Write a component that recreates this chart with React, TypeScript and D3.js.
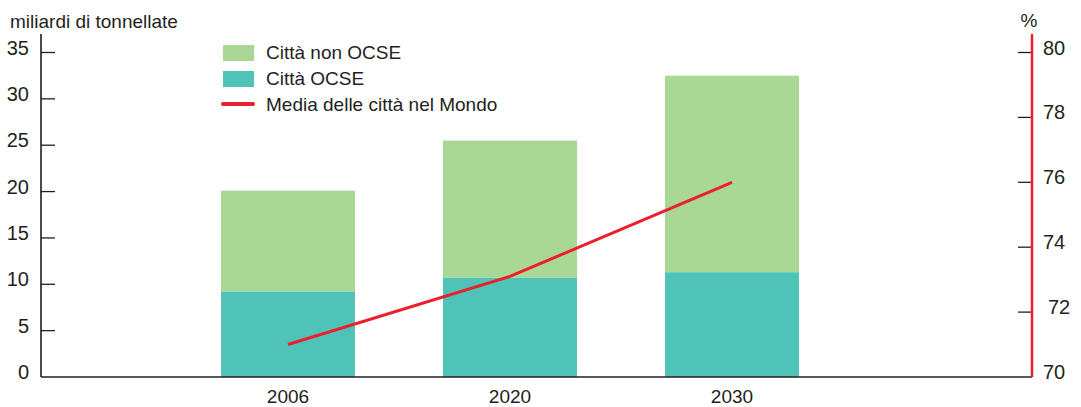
import React from 'react'
import * as d3 from 'd3'

const years = ['2006', '2020', '2030']
const cittaOcse = [9.2, 10.7, 11.3]
const cittaNonOcse = [10.9, 14.8, 21.2]
const mediaMondo = [71.0, 73.1, 76.0]
const leftTicks = [0, 5, 10, 15, 20, 25, 30, 35]
const rightTicks = [70, 72, 74, 76, 78, 80]

const legendItems = [
  { label: 'Città non OCSE', kind: 'rect', color: '#a9d795' },
  { label: 'Città OCSE', kind: 'rect', color: '#4fc3b7' },
  { label: 'Media delle città nel Mondo', kind: 'line', color: '#ec1f2d' },
]

const W = 1081
const H = 407
const left = 41
const right = 1032
const top = 34
const bottom = 377
const barW = 134
const font = '"Liberation Sans", Arial, sans-serif'

export default function App() {
  const x = d3.scalePoint<string>().domain(years).range([288, 732])
  const y = d3.scaleLinear().domain([0, 35]).range([bottom, 52.5])
  const y2 = d3.scaleLinear().domain([70, 80]).range([bottom, 52.5])

  const stacked = years.map((yr, i) => ({
    yr,
    ocse: cittaOcse[i],
    total: cittaOcse[i] + cittaNonOcse[i],
  }))

  const line = d3
    .line<number>()
    .x((d, i) => x(years[i]) as number)
    .y((d) => y2(d))

  return (
    <svg width={W} height={H} style={{ position: 'absolute', left: 0, top: 0, background: '#fff' }} fontFamily={font}>
      <text x={10} y={28} fontSize={19} fill="#231f20">miliardi di tonnellate</text>
      <text x={1029} y={27} fontSize={19} fill="#231f20" textAnchor="middle">%</text>

      {/* bars */}
      {stacked.map((d) => (
        <g key={d.yr}>
          <rect x={(x(d.yr) as number) - barW / 2} y={y(d.total)} width={barW} height={y(d.ocse) - y(d.total)} fill="#a9d795" />
          <rect x={(x(d.yr) as number) - barW / 2} y={y(d.ocse)} width={barW} height={bottom - y(d.ocse)} fill="#4fc3b7" />
        </g>
      ))}

      {/* line */}
      <path d={line(mediaMondo) || ''} fill="none" stroke="#ec1f2d" strokeWidth={3} />

      {/* left axis */}
      <line x1={left} x2={left} y1={top} y2={bottom} stroke="#4a4a4a" strokeWidth={2} />
      {leftTicks.map((t) => (
        <g key={t}>
          {t > 0 && <line x1={left} x2={55} y1={y(t)} y2={y(t)} stroke="#231f20" strokeWidth={1.3} />}
          <text x={29} y={y(t) + 2} fontSize={20} textAnchor="end" fill="#231f20">{t}</text>
        </g>
      ))}

      {/* baseline */}
      <line x1={left} x2={right} y1={bottom} y2={bottom} stroke="#231f20" strokeWidth={1.5} />

      {/* right axis */}
      {rightTicks.map((t) => (
        <g key={t}>
          {t > 70 && <line x1={1018} x2={right} y1={y2(t)} y2={y2(t)} stroke="#231f20" strokeWidth={1.3} />}
          <text x={t === 72 ? 1048 : 1043} y={y2(t) + 2} fontSize={20} fill="#231f20">{t}</text>
        </g>
      ))}
      <line x1={right} x2={right} y1={top} y2={bottom} stroke="#ec1f2d" strokeWidth={2.5} />

      {/* x labels */}
      {years.map((yr) => (
        <text key={yr} x={x(yr)} y={403} fontSize={19} textAnchor="middle" fill="#231f20">{yr}</text>
      ))}

      {/* legend */}
      {legendItems.map((it, i) => {
        const cy = 53 + i * 26
        return (
          <g key={it.label}>
            {it.kind === 'rect' ? (
              <rect x={223} y={cy - 8} width={31} height={16} fill={it.color} />
            ) : (
              <line x1={223} x2={253} y1={cy - 1} y2={cy - 1} stroke={it.color} strokeWidth={4} strokeLinecap="round" />
            )}
            <text x={266} y={cy + 6} fontSize={19} fill="#231f20">{it.label}</text>
          </g>
        )
      })}
    </svg>
  )
}
